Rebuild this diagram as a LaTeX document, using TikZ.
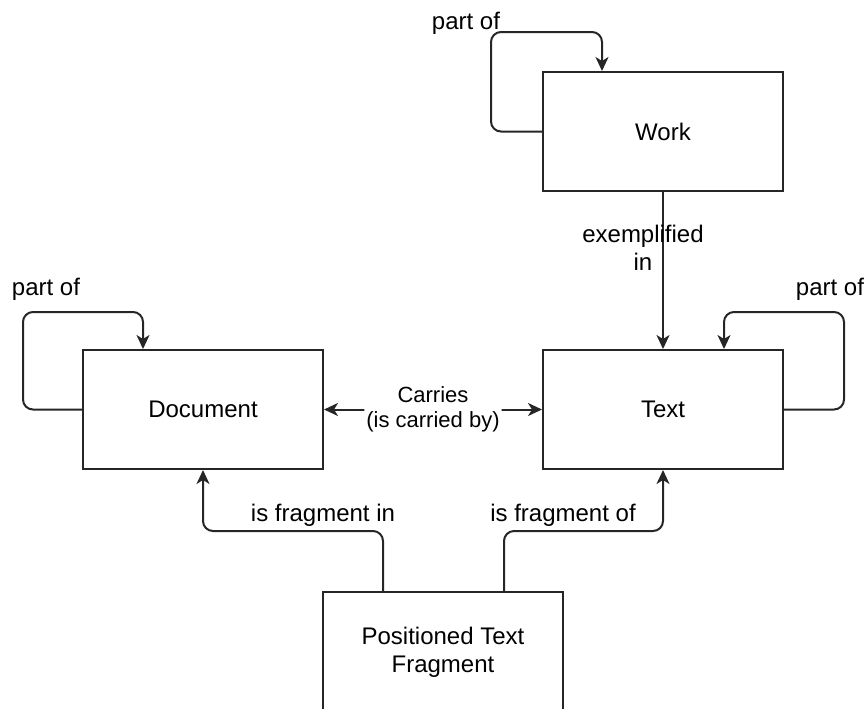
\documentclass[tikz,border=0pt]{standalone}
\usepackage{fontspec}
\setmainfont{Liberation Sans}
\usetikzlibrary{arrows.meta,calc}
\begin{document}
\begin{tikzpicture}[x=0.5pt,y=-0.5pt,
  tip/.tip={Stealth[length=7pt,width=6.5pt,inset=2pt]},
  box/.style={draw=black!85, line width=1pt, minimum width=120pt, minimum height=59.5pt, inner sep=0pt, align=center, font=\fontsize{12}{14}\selectfont},
  conn/.style={draw=black!85, line width=1pt, rounded corners=5pt, -tip},
  lbl/.style={font=\fontsize{12}{14}\selectfont, inner sep=0pt, align=center}]
\useasboundingbox (0,0) rectangle (866,708);
\node[box] (work) at (663,131.5) {Work};
\node[box] (doc) at (203,409.5) {Document};
\node[box] (text) at (663,409.5) {Text};
\node[box, minimum height=60pt] (ptf) at (443,652) {Positioned Text\\Fragment};

% self loops
\draw[conn] (work.west) -- ++(-51,0) -- ++(0,-99.5) -| ([xshift=30pt]work.north west);
\node[lbl] (lwork) at (466,23) {part of};
\draw[conn] (doc.west) -- ++(-59,0) -- ++(0,-97.5) -| ([xshift=30.5pt]doc.north west);
\node[lbl] (ldoc) at (46,289) {part of};
\draw[conn] (text.east) -- ++(60,0) -- ++(0,-97.5) -| ([xshift=-30pt]text.north east);
\node[lbl] (ltext) at (830,289) {part of};

% exemplified in
\draw[conn] (work.south) -- (text.north);
\node[lbl] (lex) at (643,248) {exemplified\\in};

% carries
\draw[conn, tip-tip] (doc.east) -- (text.west)
  node[midway, fill=white, inner xsep=1pt, inner ysep=0pt, align=center, font=\fontsize{11}{12.5}\selectfont] (lcar) {Carries\\(is carried by)};

% fragment connectors
\draw[conn] ([xshift=30.5pt]ptf.north west) -- ++(0,-60) -| (doc.south);
\node[lbl] (lfin) at (323,515) {is fragment in};
\draw[conn] ([xshift=-30pt]ptf.north east) -- ++(0,-60) -| (text.south);
\node[lbl] (lfof) at (563,515) {is fragment of};
\end{tikzpicture}
\end{document}
